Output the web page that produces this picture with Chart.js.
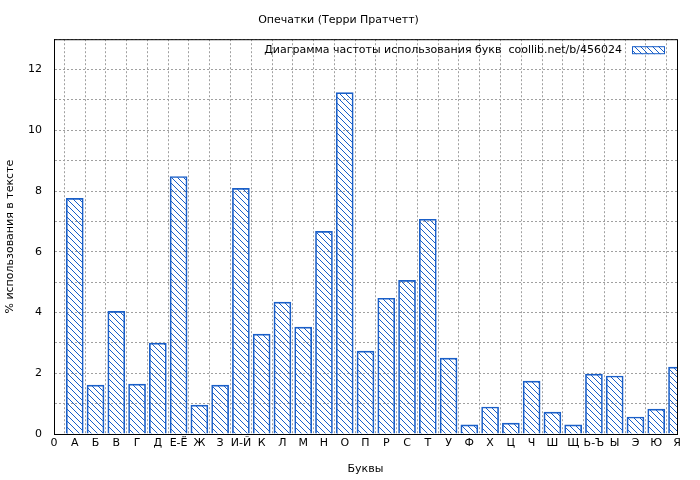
<!DOCTYPE html>
<html><head><meta charset="utf-8">
<script src="https://cdn.jsdelivr.net/npm/chart.js@4"></script>
<style>html,body{margin:0;background:#fff}#wrap{width:700px;height:480px}</style>
</head><body><div id="wrap"><canvas id="c"></canvas></div>
<script>
const letters = ['0','А','Б','В','Г','Д','Е-Ё','Ж','З','И-Й','К','Л','М','Н','О','П','Р','С','Т','У','Ф','Х','Ц','Ч','Ш','Щ','Ь-Ъ','Ы','Э','Ю','Я'];
const freq = [7.76,1.61,4.04,1.64,2.99,8.48,0.95,1.61,8.09,3.29,4.34,3.52,6.67,11.24,2.73,4.47,5.06,7.07,2.50,0.30,0.89,0.36,1.74,0.72,0.30,1.97,1.91,0.56,0.82,2.20];
const legendText = 'Диаграмма частоты использования букв  coollib.net/b/456024';
const blue = '#1a5fc8';

function hatch() {
  const p = document.createElement('canvas');
  p.width = 6; p.height = 6;
  const g = p.getContext('2d');
  g.strokeStyle = blue; g.lineWidth = 1;
  g.beginPath();
  g.moveTo(0, 0); g.lineTo(6, 6);
  g.moveTo(-3, 3); g.lineTo(3, 9);
  g.moveTo(3, -3); g.lineTo(9, 3);
  g.stroke();
  return g.createPattern(p, 'repeat');
}
const pat = hatch();

const frame = {
  id: 'frame',
  afterDraw(chart) {
    const {ctx, chartArea: a} = chart;
    ctx.save();
    ctx.strokeStyle = '#000'; ctx.lineWidth = 1;
    ctx.strokeRect(a.left + 0.5, a.top + 0.5, a.right - a.left, a.bottom - a.top);
    ctx.font = '11px "DejaVu Sans"';
    ctx.fillStyle = '#000'; ctx.textBaseline = 'middle'; ctx.textAlign = 'right';
    ctx.fillText(legendText, a.right - 55, a.top + 11);
    ctx.fillStyle = pat; ctx.fillRect(a.right - 45, a.top + 7, 32, 8);
    ctx.strokeStyle = blue; ctx.strokeRect(a.right - 44.5, a.top + 7.5, 32, 7);
    ctx.restore();
  }
};

new Chart(document.getElementById('c'), {
  type: 'bar',
  data: {
    datasets: [{
      data: freq.map((v, i) => ({x: i + 1, y: v})),
      backgroundColor: pat,
      borderColor: blue,
      borderWidth: 1,
      barThickness: 17
    }]
  },
  options: {
    responsive: true, maintainAspectRatio: false, animation: false,
    layout: {padding: {left: 0, right: 23, top: 2}},
    plugins: {
      legend: {display: false}, tooltip: {enabled: false},
      title: {display: true, text: 'Опечатки (Терри Пратчетт)', color: '#000',
        font: {family: 'DejaVu Sans', size: 11, weight: 'normal'}, padding: {top: 12, bottom: 12}}
    },
    scales: {
      x: {
        type: 'linear', min: 0, max: 30, offset: false,
        afterFit(s) { s.height = 46; },
        ticks: {stepSize: 1, autoSkip: false, maxRotation: 0, color: '#000',
          font: {family: 'DejaVu Sans', size: 11}, callback: v => letters[v] ?? ''},
        grid: {color: '#a0a0a0', drawTicks: false},
        border: {color: '#000', dash: [2, 2]},
        title: {display: true, text: 'Буквы', color: '#000', font: {family: 'DejaVu Sans', size: 11}, padding: {top: 12}}
      },
      y: {
        min: 0, max: 13,
        afterFit(s) { s.width = 54; },
        ticks: {stepSize: 1, color: '#000', font: {family: 'DejaVu Sans', size: 11}, padding: 12,
          callback: v => v % 2 === 0 ? v : ''},
        grid: {color: '#a0a0a0', drawTicks: false},
        border: {color: '#000', dash: [2, 2]},
        title: {display: true, text: '% использования в тексте', color: '#000', font: {family: 'DejaVu Sans', size: 11}}
      }
    }
  },
  plugins: [frame]
});
</script></body></html>
